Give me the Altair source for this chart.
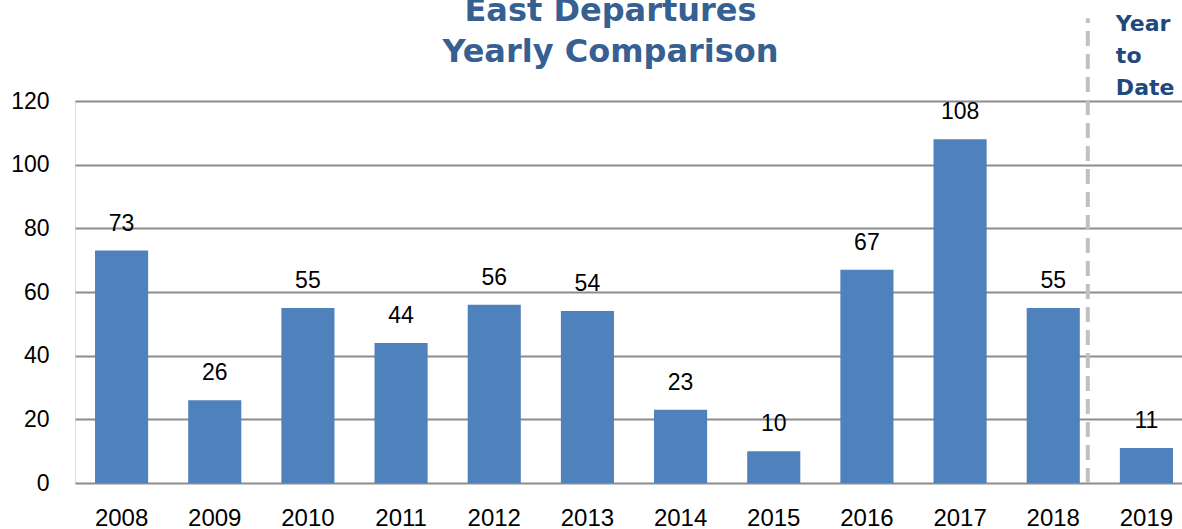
import altair as alt
import pandas as pd

years = ["2008", "2009", "2010", "2011", "2012", "2013", "2014", "2015", "2016", "2017", "2018", "2019"]
departures = [73, 26, 55, 44, 56, 54, 23, 10, 67, 108, 55, 11]
y_ticks = [0, 20, 40, 60, 80, 100, 120]
title_lines = ["East Departures", "Yearly Comparison"]
ytd_lines = ["Year", "to", "Date"]

df = pd.DataFrame({"year": years, "value": departures})

W, H = 1107, 382
STEP_RANGE = 1118

xscale = alt.Scale(domain=years, range=[0, STEP_RANGE], paddingInner=0.43, paddingOuter=0.215)
yscale = alt.Scale(domain=[0, 120], nice=False, zero=True)

x_enc = alt.X("year:N", scale=xscale, sort=years,
              axis=alt.Axis(title=None, labelAngle=0, domain=False, ticks=False, grid=False,
                            labelPadding=23, labelFont="Liberation Sans", labelFontSize=24,
                            labelColor="#000000"))
y_enc = alt.Y("value:Q", scale=yscale,
              axis=alt.Axis(title=None, values=y_ticks, domain=False, ticks=False,
                            grid=True, gridColor="#8C8C8C", gridWidth=2,
                            labelPadding=26, labelFont="Liberation Sans", labelFontSize=23,
                            labelColor="#000000"))

base = alt.Chart(df)

bars = base.mark_bar(color="#4F81BD").encode(x=x_enc, y=y_enc)

labels = base.mark_text(font="Liberation Sans", fontSize=23, color="#000000",
                        baseline="alphabetic", dy=-20).encode(
    x=alt.X("year:N", scale=xscale, sort=years),
    y=alt.Y("value:Q", scale=yscale),
    text="value:Q",
)

divider = alt.Chart(pd.DataFrame({"year": ["2018"], "value": [0], "hi": [146]})).mark_rule(
    color="#C0C0C0", strokeWidth=4, strokeDash=[15, 8], xOffset=8
).encode(
    x=alt.X("year:N", scale=xscale, sort=years, bandPosition=1.0),
    y=alt.Y("value:Q", scale=yscale),
    y2="hi:Q",
)

ytd = alt.Chart(pd.DataFrame({"year": ["2019"], "t": ["\n".join(ytd_lines)], "value": [146]})).mark_text(
    font="DejaVu Sans", fontWeight="bold", fontSize=22, color="#1F497D",
    align="left", baseline="top", lineBreak="\n", lineHeight=32, dx=-4, dy=-4
).encode(
    x=alt.X("year:N", scale=xscale, sort=years, bandPosition=0.0),
    y=alt.Y("value:Q", scale=yscale),
    text="t:N",
)

chart = alt.layer(bars, labels, divider, ytd).properties(
    width=W, height=H,
    title=alt.TitleParams(text=title_lines, font="DejaVu Sans", fontWeight="bold",
                          fontSize=32, color="#376092", lineHeight=41,
                          anchor="middle", dx=-18, offset=-81, baseline="alphabetic"),
    autosize=alt.AutoSizeParams(type="none"),
    padding={"left": 75, "top": 101, "right": 0, "bottom": 46},
).configure_view(strokeWidth=0, stroke="transparent").configure_axis(
    domain=False, ticks=False
).configure_axisX(grid=False).configure(background="white")

chart.save("out.html", embed_options={"renderer": "svg", "actions": False})
